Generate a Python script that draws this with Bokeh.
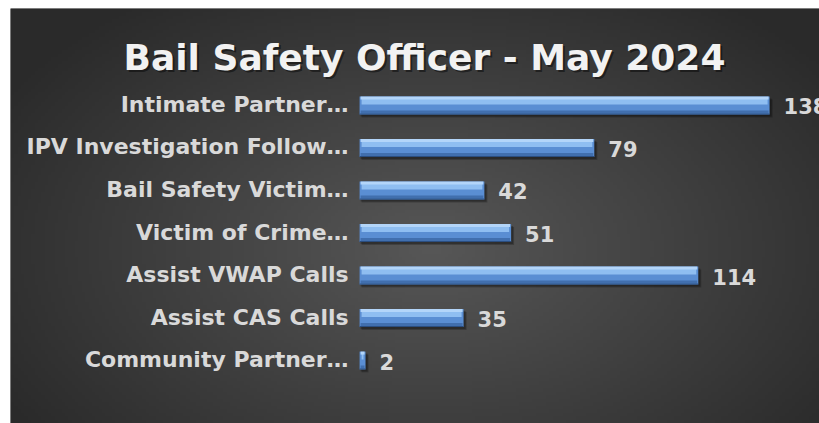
import numpy as np
from bokeh.plotting import figure
from bokeh.models import Range1d, Label, ColumnDataSource
from bokeh.core.properties import value
from bokeh.embed import file_html
from bokeh.resources import INLINE

title_text = "Bail Safety Officer - May 2024"
categories = ["Intimate Partner…", "IPV Investigation Follow…", "Bail Safety Victim…",
              "Victim of Crime…", "Assist VWAP Calls", "Assist CAS Calls", "Community Partner…"]
counts = [138, 79, 42, 51, 114, 35, 2]

W, H = 819, 423
n = len(categories)
ypos = np.array([n - 1 - i for i in range(n)], dtype=float)
vals = np.array(counts, dtype=float)

p = figure(width=W, height=H, output_backend="svg", toolbar_location=None,
           x_range=Range1d(-117.5, 154.8), y_range=Range1d(-1.482, 8.282),
           min_border=0, min_border_left=10, min_border_top=8,
           outline_line_color=None)
p.axis.visible = False
p.grid.visible = False
p.background_fill_color = "#333333"
p.border_fill_color = "#ffffff"

# radial gradient background
gw, gh = 240, 120
gx = np.linspace(0, 1, gw)[None, :]
gy = np.linspace(0, 1, gh)[:, None]
cx, cy = 0.52, 0.42
d = np.sqrt(((gx - cx) / 0.62) ** 2 + ((gy - cy) / 0.75) ** 2)
d = np.clip(d, 0, 1)
lum = (0x57 * (1 - d) + 0x2a * d).astype(np.uint32)
img = (255 << 24) | (lum << 16) | (lum << 8) | lum
xr, yr = p.x_range, p.y_range
p.image_rgba(image=[img.astype(np.uint32)], x=xr.start, y=yr.start,
             dw=xr.end - xr.start, dh=yr.end - yr.start)

src = ColumnDataSource(dict(y=ypos, v=vals, cat=categories, lab=[str(c) for c in counts]))

bh = 0.42           # bar thickness in y units (~18 px)
px = 0.0233         # one pixel in y units
ux = 1 / 2.97       # one pixel in x units
top = ypos + bh / 2
bot = ypos - bh / 2
# soft shadow
p.hbar(y=ypos - 3 * px, left=2 * ux, right=vals + 3 * ux, height=bh, fill_color="#000000",
       fill_alpha=0.22, line_color=None)
p.hbar(y=ypos - 2 * px, left=1 * ux, right=vals + 2 * ux, height=bh, fill_color="#000000",
       fill_alpha=0.25, line_color=None)
# base
p.hbar(y="y", left=0, right="v", height=bh, source=src, fill_color="#5a8ed3",
       line_color=None)
# upper light band
p.hbar(y=top - 5 * px, left=2 * ux, right=vals - 2 * ux, height=6 * px,
       fill_color="#8fbef1", line_color=None)
p.hbar(y=top - 1.5 * px, left=1 * ux, right=vals - 1 * ux, height=3 * px,
       fill_color="#b3d5f9", line_color=None)
# lower darker band
p.hbar(y=bot + 2.5 * px, left=1 * ux, right=vals - 1 * ux, height=3 * px,
       fill_color="#416fae", line_color=None)
p.hbar(y=bot + 0.5 * px, left=0, right=vals, height=1 * px,
       fill_color="#2b4e80", line_color=None)
# end bevels
p.hbar(y="y", left=vals - 3 * ux, right=vals, height=bh - 2 * px, fill_color="#3f6dab",
       fill_alpha=0.8, line_color=None)
p.hbar(y="y", left=0, right=np.minimum(2 * ux, vals), height=bh - 2 * px,
       fill_color="#7fb0ea", fill_alpha=0.7, line_color=None)

# category labels
p.text(x=0, y="y", text="cat", source=src, x_offset=-11, y_offset=-1, text_align="right",
       text_baseline="middle", text_font=value("DejaVu Sans"), text_font_style="bold",
       text_font_size="22px", text_color="#d9d9d9")
# value labels
p.text(x="v", y="y", text="lab", source=src, x_offset=14, y_offset=1, text_align="left",
       text_baseline="middle", text_font=value("DejaVu Sans"), text_font_style="bold",
       text_font_size="21px", text_color="#d9d9d9")

# title with shadow
p.add_layout(Label(x=416, y=364, x_units="screen", y_units="screen", text=title_text,
                   text_align="center", text_baseline="middle", text_font="DejaVu Sans",
                   text_font_style="bold", text_font_size="36px", text_color="#000000",
                   text_alpha=0.45))
p.add_layout(Label(x=414, y=366, x_units="screen", y_units="screen", text=title_text,
                   text_align="center", text_baseline="middle", text_font="DejaVu Sans",
                   text_font_style="bold", text_font_size="36px", text_color="#f2f2f2"))

open("out.html", "w").write(file_html(p, INLINE))
